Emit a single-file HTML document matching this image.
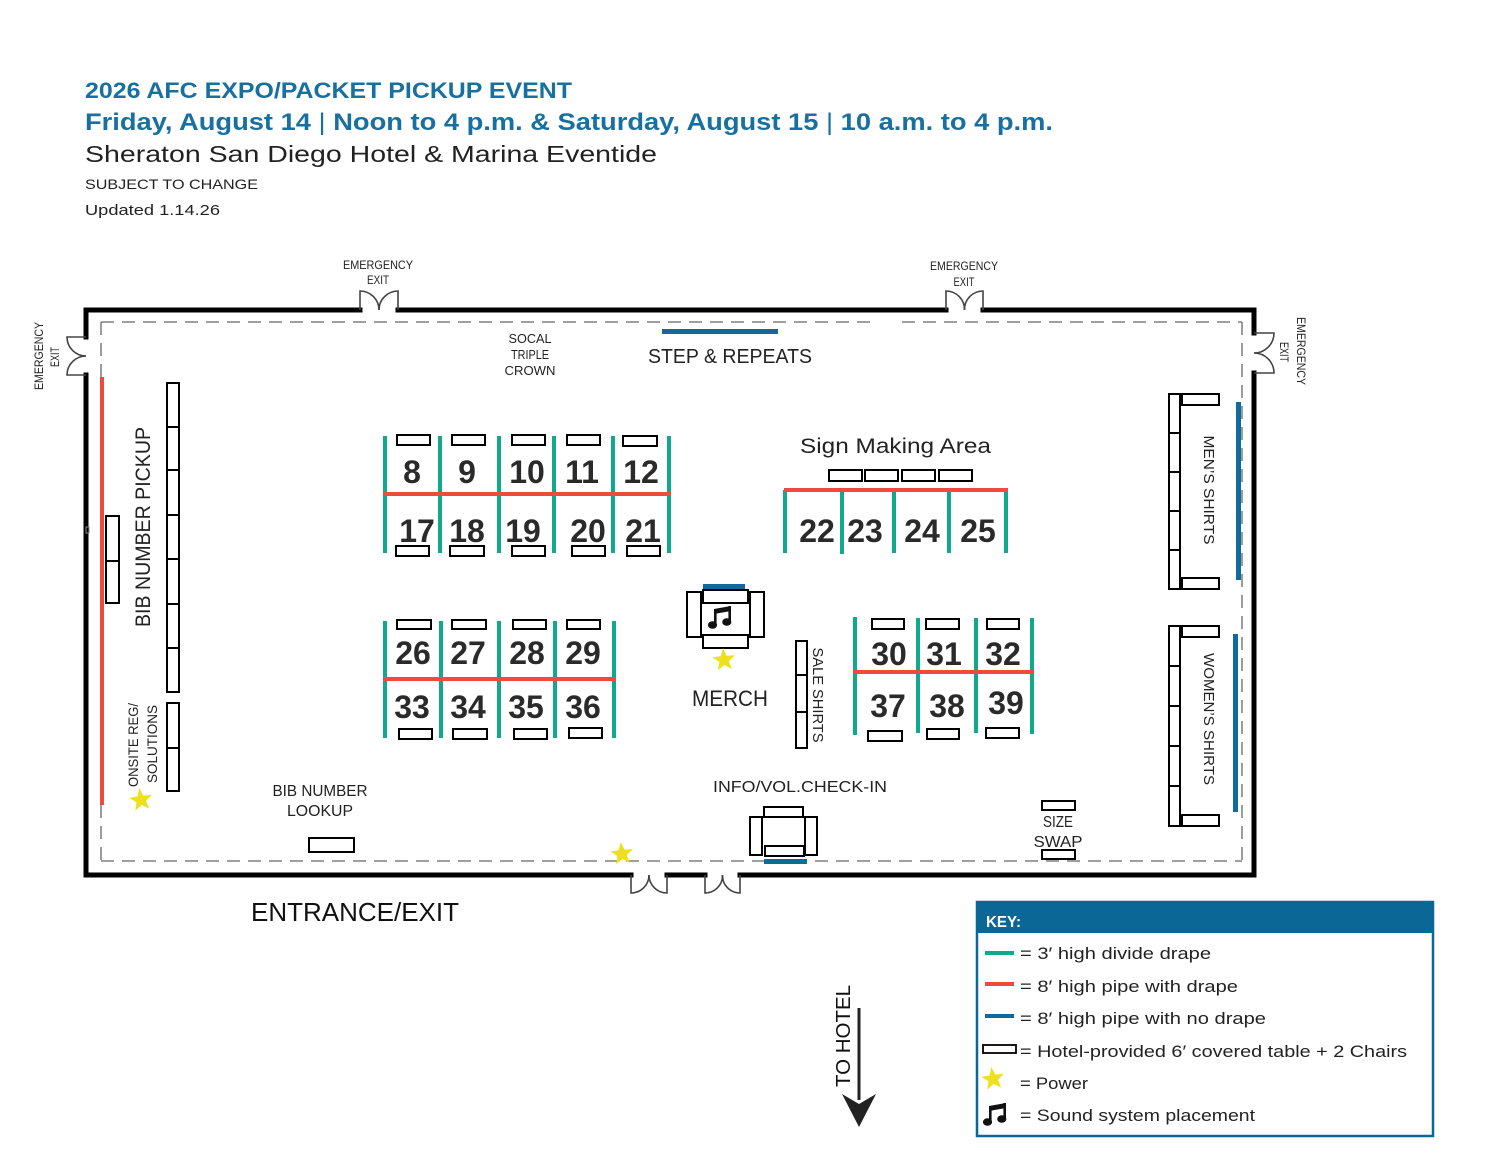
<!DOCTYPE html>
<html>
<head>
<meta charset="utf-8">
<style>
html,body{margin:0;padding:0;background:#fff;}
svg{display:block;}
text{font-family:"Liberation Sans",sans-serif;}
</style>
</head>
<body>
<svg width="1500" height="1159" viewBox="0 0 1500 1159" xmlns="http://www.w3.org/2000/svg">
<defs>
  <polygon id="star" points="0,-12 2.94,-4.05 11.41,-3.71 4.76,1.55 7.05,9.71 0,5 -7.05,9.71 -4.76,1.55 -11.41,-3.71 -2.94,-4.05" fill="#efe01c"/>
  <g id="note" fill="#111">
    <polygon points="6,3 23,0 23,5 6,8"/>
    <rect x="6" y="3" width="2.6" height="16"/>
    <rect x="20.4" y="0" width="2.6" height="16"/>
    <ellipse cx="4.5" cy="19" rx="4.6" ry="3.8"/>
    <ellipse cx="18.8" cy="16" rx="4.6" ry="3.8"/>
  </g>
</defs>
<rect width="1500" height="1159" fill="#fff"/>

<!-- Header -->
<text x="85" y="98" font-size="22" font-weight="bold" fill="#17709f" textLength="487" lengthAdjust="spacingAndGlyphs">2026 AFC EXPO/PACKET PICKUP EVENT</text>
<text x="85" y="130" font-size="24" font-weight="bold" fill="#17709f" textLength="968" lengthAdjust="spacingAndGlyphs">Friday, August 14 <tspan font-weight="normal">|</tspan> Noon to 4 p.m. &amp; Saturday, August 15 <tspan font-weight="normal">|</tspan> 10 a.m. to 4 p.m.</text>
<text x="85" y="162" font-size="23" fill="#222" textLength="572" lengthAdjust="spacingAndGlyphs">Sheraton San Diego Hotel &amp; Marina Eventide</text>
<text x="85" y="189" font-size="14" fill="#222" textLength="173" lengthAdjust="spacingAndGlyphs">SUBJECT TO CHANGE</text>
<text x="85" y="215" font-size="15" fill="#222" textLength="135" lengthAdjust="spacingAndGlyphs">Updated 1.14.26</text>

<!-- Emergency exit labels -->
<g font-size="12" fill="#222" text-anchor="middle">
  <text x="378" y="269" textLength="70" lengthAdjust="spacingAndGlyphs">EMERGENCY</text>
  <text x="378" y="284" textLength="22" lengthAdjust="spacingAndGlyphs">EXIT</text>
  <text x="964" y="270" textLength="68" lengthAdjust="spacingAndGlyphs">EMERGENCY</text>
  <text x="964" y="286" textLength="21" lengthAdjust="spacingAndGlyphs">EXIT</text>
  <text transform="translate(43,356) rotate(-90)" textLength="68" lengthAdjust="spacingAndGlyphs">EMERGENCY</text>
  <text transform="translate(59,357) rotate(-90)" textLength="20" lengthAdjust="spacingAndGlyphs">EXIT</text>
  <text transform="translate(1297,351) rotate(90)" textLength="68" lengthAdjust="spacingAndGlyphs">EMERGENCY</text>
  <text transform="translate(1280,352) rotate(90)" textLength="20" lengthAdjust="spacingAndGlyphs">EXIT</text>
</g>

<!-- Dashed inner boundary -->
<g stroke="#666" stroke-width="1.3" stroke-dasharray="13 8" fill="none">
  <line x1="101" y1="322" x2="878" y2="322"/>
  <line x1="902" y1="322" x2="1242" y2="322"/>
  <line x1="101" y1="322" x2="101" y2="861"/>
  <line x1="101" y1="861" x2="1242" y2="861"/>
  <line x1="1242" y1="322" x2="1242" y2="861"/>
</g>

<!-- Walls -->
<path d="M86,337 V310 H360 M398,310 H946 M983,310 H1254 V333 M1254,373 V875 H740 M705,875 H667 M631,875 H86 V375" stroke="#000" stroke-width="5" fill="none" stroke-linecap="square"/>

<!-- Doors -->
<g stroke="#444" stroke-width="1.6" fill="none">
  <path d="M360,310 V291 A19,19 0 0 1 379,310"/>
  <path d="M398,310 V291 A19,19 0 0 0 379,310"/>
  <path d="M946,310 V291 A18.5,18.5 0 0 1 964.5,310"/>
  <path d="M983,310 V291 A18.5,18.5 0 0 0 964.5,310"/>
  <path d="M86,337 H67 A19,19 0 0 0 86,356"/>
  <path d="M86,375 H67 A19,19 0 0 1 86,356"/>
  <path d="M1254,333 H1274 A20,20 0 0 1 1254,353"/>
  <path d="M1254,373 H1274 A20,20 0 0 0 1254,353"/>
  <path d="M631,875 V893 A18,18 0 0 0 649,875"/>
  <path d="M667,875 V893 A18,18 0 0 1 649,875"/>
  <path d="M705,875 V893 A17.5,17.5 0 0 0 722.5,875"/>
  <path d="M740,875 V893 A17.5,17.5 0 0 1 722.5,875"/>
</g>

<!-- Top area labels -->
<g font-size="13" fill="#222" text-anchor="middle">
  <text x="530" y="343" textLength="43" lengthAdjust="spacingAndGlyphs">SOCAL</text>
  <text x="530" y="359" textLength="38" lengthAdjust="spacingAndGlyphs">TRIPLE</text>
  <text x="530" y="375" textLength="51" lengthAdjust="spacingAndGlyphs">CROWN</text>
</g>
<rect x="662" y="329" width="116" height="5" fill="#0e6b9c"/>
<text x="648" y="363" font-size="20" fill="#222" textLength="164" lengthAdjust="spacingAndGlyphs">STEP &amp; REPEATS</text>

<!-- Left side -->
<rect x="100" y="377" width="4" height="428" fill="#ee4a3e"/>
<rect x="86" y="527" width="3" height="6" fill="none" stroke="#888" stroke-width="1"/>
<g fill="#fff" stroke="#000" stroke-width="2">
  <rect x="106" y="516" width="13" height="45"/>
  <rect x="106" y="561" width="13" height="42"/>
  <rect x="167" y="383" width="12" height="44"/>
  <rect x="167" y="427" width="12" height="43"/>
  <rect x="167" y="470" width="12" height="45"/>
  <rect x="167" y="515" width="12" height="44"/>
  <rect x="167" y="559" width="12" height="45"/>
  <rect x="167" y="604" width="12" height="44"/>
  <rect x="167" y="648" width="12" height="44"/>
  <rect x="167" y="703" width="12" height="45"/>
  <rect x="167" y="748" width="12" height="43"/>
  <rect x="309" y="838" width="45" height="14"/>
</g>
<text transform="translate(150,527) rotate(-90)" font-size="21" fill="#222" text-anchor="middle" textLength="200" lengthAdjust="spacingAndGlyphs">BIB NUMBER PICKUP</text>
<text transform="translate(138,745) rotate(-90)" font-size="14" fill="#222" text-anchor="middle" textLength="84" lengthAdjust="spacingAndGlyphs">ONSITE REG/</text>
<text transform="translate(157,744) rotate(-90)" font-size="14" fill="#222" text-anchor="middle" textLength="78" lengthAdjust="spacingAndGlyphs">SOLUTIONS</text>
<use href="#star" transform="translate(141,800) rotate(-8)"/>
<g font-size="16" fill="#222" text-anchor="middle">
  <text x="320" y="796" textLength="95" lengthAdjust="spacingAndGlyphs">BIB NUMBER</text>
  <text x="320" y="816" textLength="66" lengthAdjust="spacingAndGlyphs">LOOKUP</text>
</g>
<text x="251" y="921" font-size="26" fill="#111" textLength="208" lengthAdjust="spacingAndGlyphs">ENTRANCE/EXIT</text>

<!-- Booths 8-21 -->
<g fill="#10a98b">
  <rect x="383" y="436" width="4" height="117"/>
  <rect x="438" y="436" width="4" height="117"/>
  <rect x="497" y="436" width="4" height="117"/>
  <rect x="552" y="436" width="4" height="117"/>
  <rect x="611" y="436" width="4" height="117"/>
  <rect x="667" y="436" width="4" height="117"/>
</g>
<rect x="383" y="492" width="288" height="4" fill="#ee4a3e"/>
<g fill="#fff" stroke="#000" stroke-width="2">
  <rect x="397" y="435" width="33" height="10"/>
  <rect x="452" y="435" width="33" height="10"/>
  <rect x="512" y="435" width="33" height="10"/>
  <rect x="567" y="435" width="33" height="10"/>
  <rect x="623" y="436" width="34" height="10"/>
  <rect x="396" y="546" width="33" height="10"/>
  <rect x="450" y="546" width="34" height="10"/>
  <rect x="512" y="546" width="33" height="10"/>
  <rect x="572" y="546" width="33" height="10"/>
  <rect x="627" y="546" width="33" height="10"/>
</g>
<g font-size="32" font-weight="bold" fill="#2a2a2a" text-anchor="middle">
  <text x="412" y="483">8</text>
  <text x="467" y="483">9</text>
  <text x="527" y="483">10</text>
  <text x="582" y="483">11</text>
  <text x="641" y="483">12</text>
  <text x="417" y="542">17</text>
  <text x="467" y="542">18</text>
  <text x="523" y="542">19</text>
  <text x="588" y="542">20</text>
  <text x="643" y="542">21</text>
</g>

<!-- Sign Making Area -->
<text x="800" y="453" font-size="21" fill="#222" textLength="191" lengthAdjust="spacingAndGlyphs">Sign Making Area</text>
<g fill="#fff" stroke="#000" stroke-width="2">
  <rect x="829" y="470" width="33" height="11"/>
  <rect x="865" y="470" width="33" height="11"/>
  <rect x="902" y="470" width="33" height="11"/>
  <rect x="939" y="470" width="33" height="11"/>
</g>
<g fill="#10a98b">
  <rect x="783" y="490" width="4" height="63"/>
  <rect x="840" y="490" width="4" height="64"/>
  <rect x="892" y="490" width="4" height="63"/>
  <rect x="947" y="490" width="4" height="63"/>
  <rect x="1004" y="490" width="4" height="63"/>
</g>
<rect x="784" y="488" width="224" height="4" fill="#ee4a3e"/>
<g font-size="32" font-weight="bold" fill="#2a2a2a" text-anchor="middle">
  <text x="817" y="542">22</text>
  <text x="865" y="542">23</text>
  <text x="922" y="542">24</text>
  <text x="978" y="542">25</text>
</g>

<!-- Booths 26-36 -->
<g fill="#10a98b">
  <rect x="383" y="621" width="4" height="117"/>
  <rect x="439" y="621" width="4" height="117"/>
  <rect x="497" y="621" width="4" height="117"/>
  <rect x="553" y="621" width="4" height="117"/>
  <rect x="612" y="621" width="4" height="117"/>
</g>
<rect x="383" y="677" width="233" height="4" fill="#ee4a3e"/>
<g fill="#fff" stroke="#000" stroke-width="2">
  <rect x="397" y="620" width="34" height="9"/>
  <rect x="452" y="620" width="34" height="9"/>
  <rect x="513" y="620" width="33" height="9"/>
  <rect x="567" y="620" width="33" height="9"/>
  <rect x="399" y="729" width="33" height="10"/>
  <rect x="453" y="729" width="34" height="10"/>
  <rect x="514" y="729" width="33" height="10"/>
  <rect x="569" y="728" width="33" height="10"/>
</g>
<g font-size="32" font-weight="bold" fill="#2a2a2a" text-anchor="middle">
  <text x="413" y="664">26</text>
  <text x="468" y="664">27</text>
  <text x="527" y="664">28</text>
  <text x="583" y="664">29</text>
  <text x="412" y="718">33</text>
  <text x="468" y="718">34</text>
  <text x="526" y="718">35</text>
  <text x="583" y="718">36</text>
</g>

<!-- Merch cluster -->
<rect x="703" y="584" width="42" height="5" fill="#0e6b9c"/>
<g fill="#fff" stroke="#000" stroke-width="2">
  <rect x="687" y="592" width="14" height="45"/>
  <rect x="750" y="592" width="14" height="45"/>
  <rect x="703" y="590" width="45" height="13"/>
  <rect x="703" y="635" width="45" height="13"/>
</g>
<line x1="701" y1="603" x2="701" y2="635" stroke="#000" stroke-width="1"/>
<line x1="750" y1="603" x2="750" y2="635" stroke="#000" stroke-width="1"/>
<use href="#note" transform="translate(708,606)"/>
<use href="#star" transform="translate(724,660) rotate(-5)"/>
<text x="692" y="706" font-size="22" fill="#222" textLength="76" lengthAdjust="spacingAndGlyphs">MERCH</text>

<!-- Sale shirts -->
<g fill="#fff" stroke="#000" stroke-width="2">
  <rect x="796" y="641" width="11" height="34"/>
  <rect x="796" y="675" width="11" height="37"/>
  <rect x="796" y="712" width="11" height="36"/>
</g>
<text transform="translate(813,695) rotate(90)" font-size="15" fill="#222" text-anchor="middle" textLength="95" lengthAdjust="spacingAndGlyphs">SALE SHIRTS</text>

<!-- Booths 30-39 -->
<g fill="#10a98b">
  <rect x="853" y="617" width="4" height="118"/>
  <rect x="916" y="618" width="4" height="115"/>
  <rect x="974" y="618" width="4" height="115"/>
  <rect x="1030" y="618" width="4" height="116"/>
</g>
<rect x="853" y="670" width="181" height="4" fill="#ee4a3e"/>
<g fill="#fff" stroke="#000" stroke-width="2">
  <rect x="872" y="619" width="32" height="10"/>
  <rect x="926" y="619" width="33" height="10"/>
  <rect x="987" y="619" width="32" height="10"/>
  <rect x="868" y="731" width="34" height="10"/>
  <rect x="927" y="729" width="32" height="10"/>
  <rect x="986" y="728" width="33" height="10"/>
</g>
<g font-size="32" font-weight="bold" fill="#2a2a2a" text-anchor="middle">
  <text x="889" y="665">30</text>
  <text x="944" y="665">31</text>
  <text x="1003" y="665">32</text>
  <text x="888" y="717">37</text>
  <text x="947" y="717">38</text>
  <text x="1006" y="714">39</text>
</g>

<!-- Info / vol check-in -->
<text x="713" y="792" font-size="16" fill="#222" textLength="174" lengthAdjust="spacingAndGlyphs">INFO/VOL.CHECK-IN</text>
<g fill="#fff" stroke="#000" stroke-width="2">
  <rect x="750" y="817" width="12" height="38"/>
  <rect x="805" y="817" width="12" height="38"/>
  <rect x="764" y="807" width="39" height="10"/>
  <rect x="765" y="846" width="39" height="10"/>
</g>
<line x1="762" y1="817" x2="762" y2="846" stroke="#000" stroke-width="1"/>
<line x1="805" y1="817" x2="805" y2="846" stroke="#000" stroke-width="1"/>
<rect x="764" y="859" width="43" height="5" fill="#0e6b9c"/>
<use href="#star" transform="translate(622,854) rotate(-6)"/>

<!-- Size swap -->
<g fill="#fff" stroke="#000" stroke-width="2">
  <rect x="1042" y="801" width="33" height="9"/>
  <rect x="1042" y="850" width="33" height="9"/>
</g>
<g font-size="16" fill="#222" text-anchor="middle">
  <text x="1058" y="827" textLength="30" lengthAdjust="spacingAndGlyphs">SIZE</text>
  <text x="1058" y="847" textLength="49" lengthAdjust="spacingAndGlyphs">SWAP</text>
</g>

<!-- Men's / Women's shirts -->
<rect x="1236" y="402" width="5" height="178" fill="#0e6b9c"/>
<rect x="1233" y="634" width="5" height="178" fill="#0e6b9c"/>
<g fill="#fff" stroke="#000" stroke-width="2">
  <rect x="1169" y="394" width="11" height="39"/>
  <rect x="1169" y="433" width="11" height="39"/>
  <rect x="1169" y="472" width="11" height="39"/>
  <rect x="1169" y="511" width="11" height="39"/>
  <rect x="1169" y="550" width="11" height="39"/>
  <rect x="1182" y="394" width="37" height="11"/>
  <rect x="1182" y="578" width="37" height="11"/>
  <rect x="1169" y="626" width="11" height="40"/>
  <rect x="1169" y="666" width="11" height="40"/>
  <rect x="1169" y="706" width="11" height="40"/>
  <rect x="1169" y="746" width="11" height="40"/>
  <rect x="1169" y="786" width="11" height="40"/>
  <rect x="1182" y="626" width="37" height="11"/>
  <rect x="1182" y="815" width="37" height="11"/>
</g>
<text transform="translate(1204,490) rotate(90)" font-size="15" fill="#222" text-anchor="middle" textLength="109" lengthAdjust="spacingAndGlyphs">MEN’S  SHIRTS</text>
<text transform="translate(1204,719) rotate(90)" font-size="15" fill="#222" text-anchor="middle" textLength="132" lengthAdjust="spacingAndGlyphs">WOMEN’S  SHIRTS</text>

<!-- To hotel -->
<text transform="translate(850,1036) rotate(-90)" font-size="20" fill="#111" text-anchor="middle" textLength="102" lengthAdjust="spacingAndGlyphs">TO HOTEL</text>
<rect x="857.5" y="1008" width="3" height="92" fill="#222"/>
<polygon points="842,1094 859,1104 876,1094 859,1127" fill="#222"/>

<!-- Key -->
<rect x="977" y="902" width="456" height="234" fill="#fff" stroke="#0b6896" stroke-width="2.5"/>
<rect x="977" y="902" width="456" height="31" fill="#0b6896"/>
<text x="986" y="927" font-size="16" font-weight="bold" fill="#fff" textLength="35" lengthAdjust="spacingAndGlyphs">KEY:</text>
<rect x="985" y="951" width="29" height="4" fill="#10a98b"/>
<rect x="985" y="982" width="29" height="4" fill="#ee4a3e"/>
<rect x="985" y="1014" width="29" height="4" fill="#0e6b9c"/>
<rect x="983" y="1045" width="33" height="8" fill="#fff" stroke="#000" stroke-width="1.8"/>
<use href="#star" transform="translate(993,1079) rotate(-8)"/>
<use href="#note" transform="translate(983,1103)"/>
<g font-size="17" fill="#222">
  <text x="1020" y="959" textLength="191" lengthAdjust="spacingAndGlyphs">= 3′ high divide drape</text>
  <text x="1020" y="992" textLength="218" lengthAdjust="spacingAndGlyphs">= 8′ high pipe with drape</text>
  <text x="1020" y="1024" textLength="246" lengthAdjust="spacingAndGlyphs">= 8′ high pipe with no drape</text>
  <text x="1020" y="1057" textLength="387" lengthAdjust="spacingAndGlyphs">= Hotel-provided 6′ covered table + 2 Chairs</text>
  <text x="1020" y="1089" textLength="68" lengthAdjust="spacingAndGlyphs">= Power</text>
  <text x="1020" y="1121" textLength="235" lengthAdjust="spacingAndGlyphs">= Sound system placement</text>
</g>
</svg>
</body>
</html>
